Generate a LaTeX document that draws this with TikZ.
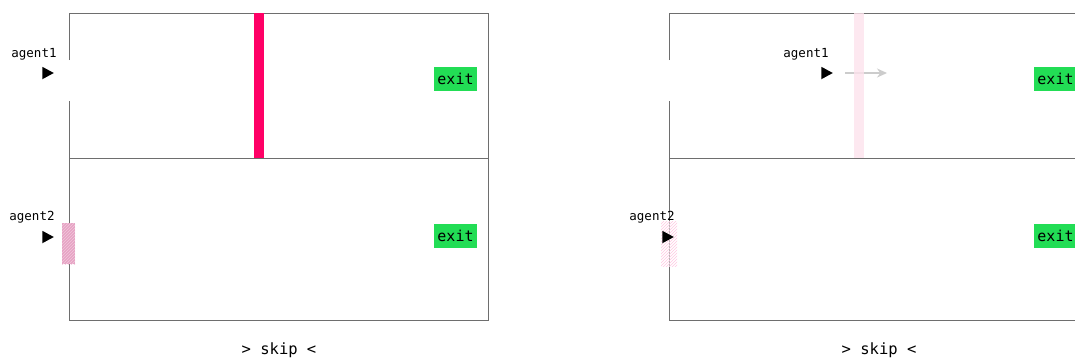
\documentclass[tikz,border=0pt]{standalone}
\usepackage{fontspec}
\setmonofont{DejaVu Sans Mono}
\usepackage{tikz}
\usetikzlibrary{positioning, arrows.meta, shapes.geometric, patterns}
\definecolor{blockred}{RGB}{255,0,102}
\definecolor{blockfade}{RGB}{252,226,236}
\definecolor{exitgreen}{RGB}{34,221,85}
\definecolor{waitpink}{RGB}{231,163,197}
\definecolor{framegray}{RGB}{110,110,110}

\begin{document}
\begin{tikzpicture}[x=1pt, y=-1pt,
  frameline/.style={draw=framegray, line width=0.9pt},
  exitbox/.style={fill=exitgreen, inner xsep=3pt, minimum height=24pt,
    font=\ttfamily\fontsize{15}{15}\selectfont},
  agentlabel/.style={inner sep=0pt, font=\ttfamily\fontsize{12.5}{12.5}\selectfont},
  agentmark/.style={isosceles triangle, isosceles triangle stretches,
    fill=black, inner sep=0pt, minimum width=12.5pt, minimum height=11.5pt},
  skiplabel/.style={inner sep=0pt, font=\ttfamily\fontsize{15.5}{15.5}\selectfont},
]
  \useasboundingbox (0,0) rectangle (1075,360);
  \clip (0,0) rectangle (1075,360);

  % left panel: before the skip
  \draw[frameline] (69,60) -- (69,13) -- (488,13) -- (488,320) -- (69,320) -- (69,101);
  \draw[frameline] (69,158) -- (488,158);
  \fill[blockred] (254,13) rectangle (264,158);
  \node[agentlabel] (a1name) at (34,54) {agent1};
  \node[agentmark] (a1mark) at (46,73) {};
  \node[agentlabel] (a2name) at (32,217) {agent2};
  \node[agentmark] (a2mark) at (46,237) {};
  \fill[waitpink, postaction={pattern=north east lines, pattern color=waitpink!60!white}]
    (62,223) rectangle (75,264);
  \node[exitbox] (exit1) at (455.5,79) {exit};
  \node[exitbox] (exit2) at (455.5,236) {exit};
  \node[skiplabel] (skip1) at (279,350) {> skip <};

  % right panel: after the skip
  \draw[frameline] (669,60) -- (669,13) -- (1088,13) -- (1088,320) -- (669,320) -- (669,101);
  \draw[frameline] (669,158) -- (1088,158);
  \node[agentlabel] (b1name) at (806,54) {agent1};
  \node[agentmark] (b1mark) at (825,73) {};
  \coordinate (b1goal) at (887,73);
  \draw[gray!40, line width=1.3pt, -{Stealth[length=10pt, width=9pt]}]
    ([xshift=12pt]b1mark.east) -- (b1goal);
  \fill[blockfade, opacity=0.8] (854,13) rectangle (864,158);
  \node[agentlabel] (b2name) at (652,217) {agent2};
  \fill[white, opacity=0.5] (661,221) rectangle (677,266);
  \fill[pattern=north east lines, pattern color=pink!80!magenta!55]
    (661,221) rectangle (677,266);
  \node[agentmark] (b2mark) at (666,237) {};
  \node[exitbox] (exit3) at (1055.5,79) {exit};
  \node[exitbox] (exit4) at (1055.5,236) {exit};
  \node[skiplabel] (skip2) at (879,350) {> skip <};
\end{tikzpicture}
\end{document}
